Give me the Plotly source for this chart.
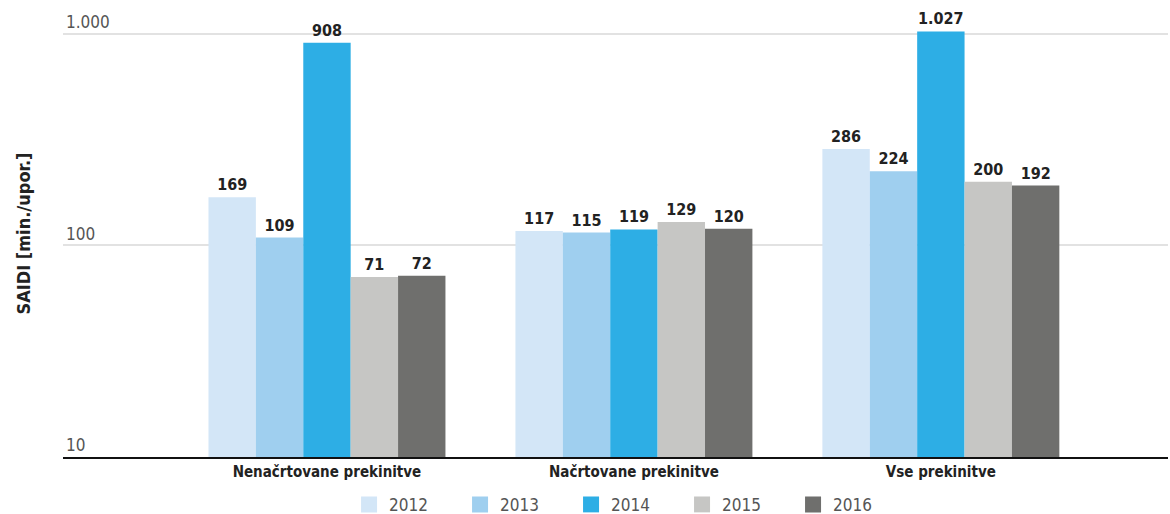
import plotly.graph_objects as go

categories = ["Nenačrtovane prekinitve", "Načrtovane prekinitve", "Vse prekinitve"]
years = ["2012", "2013", "2014", "2015", "2016"]
values = {
    "2012": [169, 117, 286],
    "2013": [109, 115, 224],
    "2014": [908, 119, 1027],
    "2015": [71, 129, 200],
    "2016": [72, 120, 192],
}
colors = ["#d3e6f7", "#9fcfef", "#2daee5", "#c6c6c4", "#6f6f6d"]
tick_vals = [10, 100, 1000]
tick_text = ["10", "100", "1.000"]

FONT = "DejaVu Sans Condensed, Liberation Sans Narrow, sans-serif"

fig = go.Figure()
for y, c in zip(years, colors):
    fig.add_trace(go.Bar(
        x=list(range(len(categories))), y=values[y], name=y,
        marker=dict(color=c, line=dict(width=0)),
        texttemplate="<b>%{y:,}</b>", textposition="outside",
        textfont=dict(size=16, color="#222222", family=FONT),
        cliponaxis=False, showlegend=False,
    ))
# legend swatches
for y, c in zip(years, colors):
    fig.add_trace(go.Scatter(
        x=[None], y=[None], name=y, mode="markers",
        marker=dict(symbol="square", size=18, color=c, line=dict(width=0)),
        showlegend=True,
    ))

fig.update_layout(
    width=1170, height=514,
    margin=dict(l=63, r=2, t=10, b=57, autoexpand=False),
    barmode="group", bargap=0.228, bargroupgap=0,
    separators=",.",
    plot_bgcolor="white", paper_bgcolor="white",
    font=dict(family=FONT, color="#555555"),
    showlegend=True,
    legend=dict(orientation="h", x=0.51, xanchor="center", y=-0.107, yanchor="middle",
                font=dict(size=17, color="#555555", family=FONT),
                itemwidth=30, entrywidth=66, traceorder="normal"),
    xaxis=dict(
        tickmode="array", tickvals=list(range(len(categories))),
        ticktext=["<b>" + c + "</b>" for c in categories],
        tickfont=dict(size=15, color="#222222", family=FONT),
        range=[-0.86, 2.74], showgrid=False, zeroline=False, automargin=False,
        showline=True, linecolor="#111111", linewidth=2, ticks="",
    ),
    yaxis=dict(
        type="log", range=[1, 3.113], automargin=False,
        tickmode="array", tickvals=tick_vals, ticktext=tick_text,
        ticklabelposition="inside top",
        tickfont=dict(size=17, color="#555555", family=FONT),
        showgrid=True, gridcolor="#e2e2e2", gridwidth=2,
        zeroline=False, showline=False, ticks="",
        title=dict(text="<b>SAIDI [min./upor.]</b>", font=dict(size=18, color="#222222", family=FONT), standoff=30),
    ),
)

fig.write_html("out.html", config={"displayModeBar": False},
               post_script="document.body.style.margin='0px';document.body.style.overflow='hidden';")
